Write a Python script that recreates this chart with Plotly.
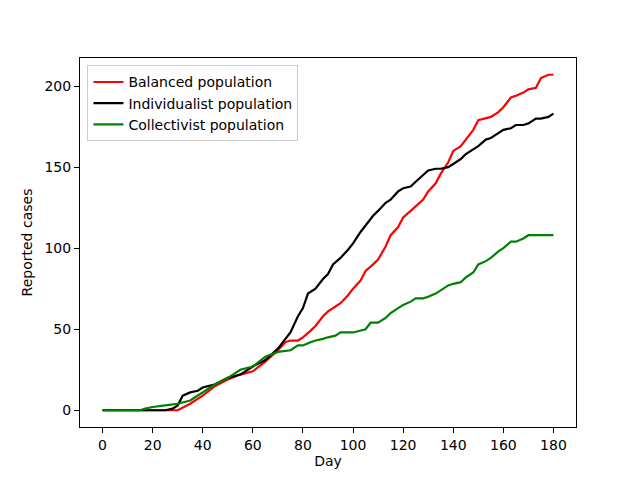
import plotly.graph_objects as go

days_ind = [0, 25, 28, 30, 32, 35, 38, 40, 45, 50, 55, 60, 65, 70, 72, 75, 78, 80, 82, 85, 88, 90, 92, 95, 98, 100,
            103, 105, 108, 110, 113, 115, 118, 120, 123, 125, 128, 130, 133, 135, 138, 140, 143, 145, 148, 150,
            153, 155, 158, 160, 163, 165, 168, 170, 173, 175, 178, 180]
individualist = [0, 0, 1, 3, 9, 11, 12, 14, 16, 20, 22, 27, 31, 38, 42, 48, 58, 63, 72, 75, 81, 84, 90, 94, 99, 103,
                 110, 114, 120, 123, 128, 130, 135, 137, 138, 141, 145, 148, 149, 149, 150, 152, 155, 158, 161, 163,
                 167, 168, 171, 173, 174, 176, 176, 177, 180, 180, 181, 183]

days_bal = [0, 30, 35, 40, 45, 50, 55, 60, 65, 70, 73, 75, 78, 80, 83, 85, 88, 90, 93, 95, 98, 100, 103, 105, 108,
            110, 113, 115, 118, 120, 123, 125, 128, 130, 133, 135, 138, 140, 143, 145, 148, 150, 153, 155, 158,
            160, 163, 165, 168, 170, 173, 175, 178, 180]
balanced = [0, 0, 4, 9, 15, 19, 22, 24, 30, 37, 42, 43, 43, 45, 49, 52, 58, 61, 64, 66, 71, 75, 80, 86, 90,
            93, 101, 108, 113, 119, 123, 126, 130, 135, 140, 146, 153, 160, 163, 167, 173, 179, 180, 181, 184,
            187, 193, 194, 196, 198, 199, 205, 207, 207]

days_col = [0, 15, 17, 20, 25, 30, 35, 40, 45, 50, 55, 60, 65, 70, 75, 78, 80, 83, 85, 88, 90, 93, 95, 100, 103,
            105, 107, 110, 113, 115, 118, 120, 123, 125, 128, 130, 133, 135, 138, 140, 143, 145, 148, 150, 153,
            155, 158, 160, 163, 165, 168, 170, 175, 180]
collectivist = [0, 0, 1, 2, 3, 4, 6, 11, 16, 20, 25, 27, 33, 36, 37, 40, 40, 42, 43, 44, 45, 46, 48, 48, 49,
                50, 54, 54, 57, 60, 63, 65, 67, 69, 69, 70, 72, 74, 77, 78, 79, 82, 85, 90, 92,
                94, 98, 100, 104, 104, 106, 108, 108, 108]

x_ticks = [0, 20, 40, 60, 80, 100, 120, 140, 160, 180]
y_ticks = [0, 50, 100, 150, 200]

fig = go.Figure()
fig.add_trace(go.Scatter(x=days_bal, y=balanced, mode="lines", name="Balanced population",
                         line=dict(color="red", width=2.2)))
fig.add_trace(go.Scatter(x=days_ind, y=individualist, mode="lines", name="Individualist population",
                         line=dict(color="black", width=2.2)))
fig.add_trace(go.Scatter(x=days_col, y=collectivist, mode="lines", name="Collectivist population",
                         line=dict(color="green", width=2.2)))

axis_common = dict(showline=True, linecolor="black", linewidth=1, mirror=True, ticks="outside",
                   ticklen=5, tickcolor="black", showgrid=False, zeroline=False,
                   tickfont=dict(family="DejaVu Sans", size=14, color="black"))

fig.update_layout(
    width=640, height=480,
    margin=dict(l=72, r=72, t=50, b=61),
    paper_bgcolor="white", plot_bgcolor="white",
    font=dict(family="DejaVu Sans", size=14, color="black"),
    xaxis=dict(range=[-9, 189], tickvals=x_ticks,
               title=dict(text="Day", font=dict(size=14), standoff=4), **axis_common),
    yaxis=dict(range=[-10.35, 217.35], tickvals=y_ticks,
               title=dict(text="Reported cases", font=dict(size=14), standoff=8), **axis_common),
    legend=dict(x=0.015, y=0.98, xanchor="left", yanchor="top", bgcolor="rgba(255,255,255,0.8)",
                bordercolor="#cccccc", borderwidth=1, font=dict(size=14), tracegroupgap=0),
    showlegend=True,
)

fig.write_html("out.html")
